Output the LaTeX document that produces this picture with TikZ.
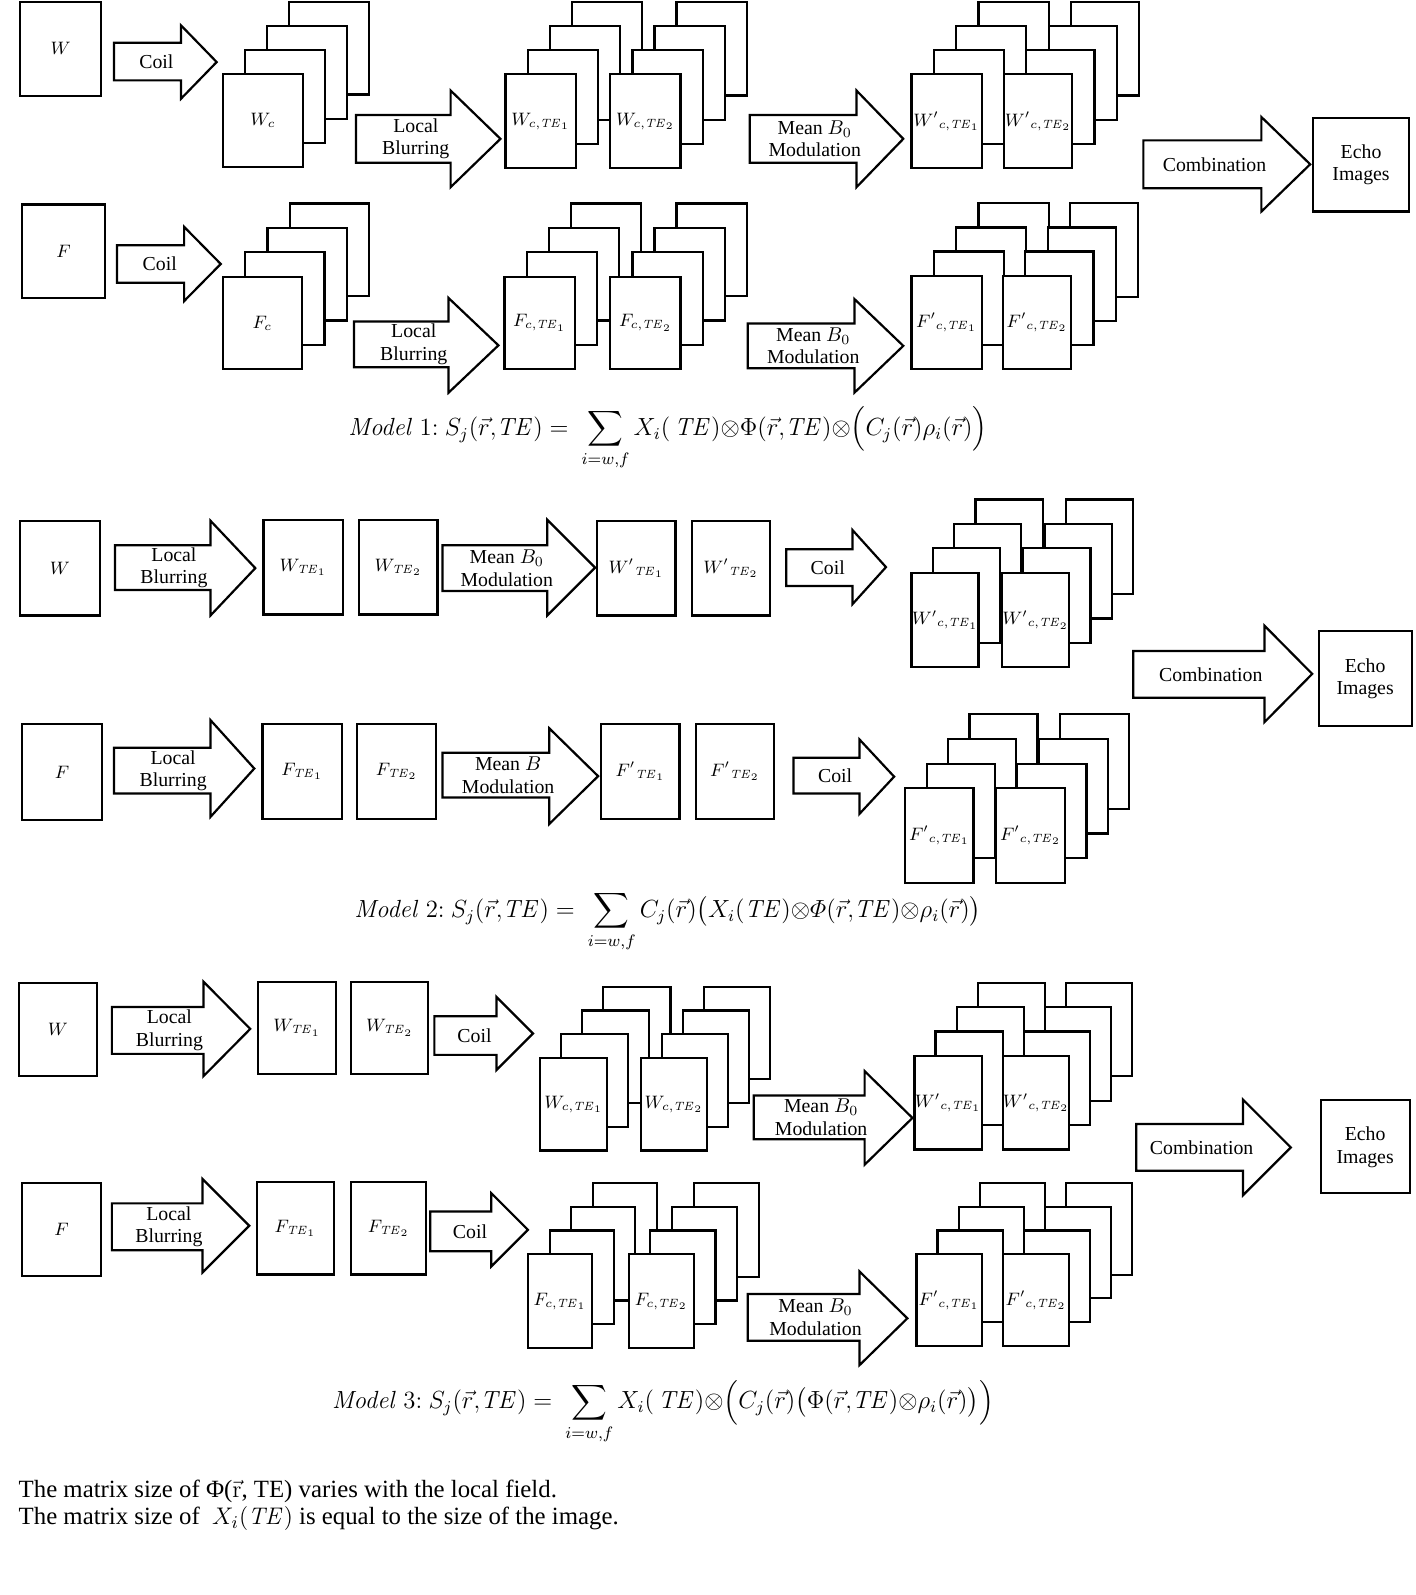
\documentclass[tikz,border=0pt]{standalone}
\usepackage{amsmath}
\usepackage{graphicx}
\usepackage[no-math]{fontspec}
\setmainfont{Liberation Serif}
\tikzset{
  boxline/.style={draw=black, line width=1.1pt, fill=white},
  arrline/.style={draw=black, line width=1.1pt, fill=white, line join=miter},
  boxlbl/.style={inner sep=0pt, font=\fontsize{9}{11}\selectfont},
  albl/.style={align=center, inner sep=0pt, font=\fontsize{9.9}{11.2}\selectfont},
  formula/.style={inner sep=0pt, anchor=base west, font=\fontsize{12}{14}\selectfont},
  note/.style={inner sep=0pt, anchor=base west, font=\fontsize{12.4}{13.7}\selectfont}
}
% single image box: name, x1, y1, x2, y2, label
\newcommand\imgbox[6]{%
  \draw[boxline] (#2,#3) rectangle (#4,#5);
  \node[boxlbl] (#1) at ({(#2+#4)/2},{(#3+#5)/2}) {#6};}
% stack of four boxes: name, front x1, y1, x2, y2, dx, dy, label
\newcommand\imgstack[8]{%
  \foreach \k in {3,2,1,0}{\draw[boxline] ({#2+\k*#6},{#3-\k*#7}) rectangle ({#4+\k*#6},{#5-\k*#7});}
  \node[boxlbl] (#1) at ({(#2+#4)/2},{(#3+#5)/2}) {#8};}
% block arrow: name, body left, head base, tip, body top, body bottom, head top, head bottom, label
\newcommand\blockarrow[9]{%
  \draw[arrline] (#2,#5) -- (#3,#5) -- (#3,#7) -- (#4,{(#7+#8)/2}) -- (#3,#8) -- (#3,#6) -- (#2,#6) -- cycle;
  \node[albl] (#1) at ({(#2+#3)/2+(#4-#3)/4},{(#5+#6)/2}) {#9};}
\newcommand\TEs[1]{\mathit{TE}_{#1}}
\newcommand\eqscale[1]{\scalebox{1.033}{#1}}
\begin{document}
\begin{tikzpicture}[x=0.508621pt,y=-0.508621pt]
\fill[white] (0,0) rectangle (1392,1568);
\useasboundingbox (0,0) rectangle (1392,1568);

% ================= Model 1 =================
\imgbox{w1}{20}{2}{99}{94}{$W$}
\blockarrow{c1w}{112}{178}{213}{42}{79}{25}{97}{Coil}
\imgstack{wc1}{219}{73}{298}{164}{21.7}{23.7}{$W_c$}
\blockarrow{lb1w}{350}{443}{492}{113}{160}{89}{184}{Local\\Blurring}
\imgstack{wcte1}{497}{73}{566}{165}{21.7}{23.7}{$W_{c{,}\TEs1}$}
\imgstack{wcte2}{600}{73}{669}{165}{21.7}{23.7}{$W_{c{,}\TEs2}$}
\blockarrow{mb1w}{737}{842}{888}{113}{160}{89}{184}{Mean $B_0$\\Modulation}
\imgstack{wpc1}{896}{73}{965}{165}{22}{23.7}{$W'{}_{c{,}\TEs1}$}
\imgstack{wpc2}{987}{73}{1054}{165}{22}{23.7}{$W'{}_{c{,}\TEs2}$}
\blockarrow{comb1}{1124}{1240}{1288}{138}{185}{115}{208}{Combination}
\draw[boxline] (1291,116) rectangle (1385,208);
\node[albl] (echo1) at (1338,162) {Echo\\Images};

\imgbox{f1}{22}{201}{103}{293}{$F$}
\blockarrow{c1f}{115}{181}{217}{241}{278}{223}{296}{Coil}
\imgstack{fc1}{219}{272}{297}{363}{22}{24}{$F_c$}
\blockarrow{lb1f}{348}{441}{490}{316}{361}{293}{386}{Local\\Blurring}
\imgstack{fcte1}{496}{272}{565}{363}{21.7}{24}{$F_{c{,}\TEs1}$}
\imgstack{fcte2}{600}{272}{669}{363}{21.7}{24}{$F_{c{,}\TEs2}$}
\blockarrow{mb1f}{735}{840}{888}{318}{362}{294}{386}{Mean $B_0$\\Modulation}
\imgstack{fpc1}{896}{271}{965}{363}{22}{23.7}{$F'{}_{c{,}\TEs1}$}
\imgstack{fpc2}{986}{271}{1053}{363}{22}{23.7}{$F'{}_{c{,}\TEs2}$}

\node[formula] (eq1) at (342,428) {\eqscale{$\mathit{Model}\ 1{:}\ S_j(\vec{r}{,}\mathit{TE}) =\ \displaystyle\sum_{i=w,f} X_i(\,\mathit{TE}){\otimes}\Phi(\vec{r}{,}\mathit{TE}){\otimes}\Bigl(C_j(\vec{r})\rho_i(\vec{r})\Bigr)$}};

% ================= Model 2 =================
\imgbox{w2}{20}{512}{98}{605}{$W$}
\blockarrow{lb2w}{113}{207}{251}{536}{580}{512}{605}{Local\\Blurring}
\imgbox{wte1}{259}{511}{337}{604}{$W_{\TEs1}$}
\imgbox{wte2}{353}{511}{430}{604}{$W_{\TEs2}$}
\blockarrow{mb2w}{435}{538}{585}{536}{581}{511}{605}{Mean $B_0$\\Modulation}
\imgbox{wpte1}{587}{512}{664}{605}{$W'{}_{\TEs1}$}
\imgbox{wpte2}{680}{512}{757}{605}{$W'{}_{\TEs2}$}
\blockarrow{c2w}{773}{838}{871}{540}{576}{521}{594}{Coil}
\imgstack{wpc21}{896}{563}{962}{656}{21}{24}{$W'{}_{c{,}\TEs1}$}
\imgstack{wpc22}{985}{563}{1051}{656}{21}{24}{$W'{}_{c{,}\TEs2}$}
\blockarrow{comb2}{1114}{1243}{1290}{640}{686}{615}{710}{Combination}
\draw[boxline] (1297,620) rectangle (1388,714);
\node[albl] (echo2) at (1342,667) {Echo\\Images};

\imgbox{f2}{22}{712}{100}{806}{$F$}
\blockarrow{lb2f}{112}{207}{250}{735}{780}{708}{803}{Local\\Blurring}
\imgbox{fte1}{258}{712}{336}{805}{$F_{\TEs1}$}
\imgbox{fte2}{351}{712}{429}{805}{$F_{\TEs2}$}
\blockarrow{mb2f}{435}{540}{588}{740}{784}{716}{810}{Mean $B$\\Modulation}
\imgbox{fpte1}{591}{712}{668}{805}{$F'{}_{\TEs1}$}
\imgbox{fpte2}{684}{712}{761}{805}{$F'{}_{\TEs2}$}
\blockarrow{c2f}{780}{845}{879}{745}{780}{727}{800}{Coil}
\imgstack{fpc21}{890}{775}{957}{868}{21}{24.3}{$F'{}_{c{,}\TEs1}$}
\imgstack{fpc22}{979}{775}{1047}{868}{21}{24.3}{$F'{}_{c{,}\TEs2}$}

\node[formula] (eq2) at (348,902) {\eqscale{$\mathit{Model}\ 2{:}\ S_j(\vec{r}{,}\mathit{TE}) =\ \displaystyle\sum_{i=w,f} C_j(\vec{r})\bigl(X_i(\mathit{TE}){\otimes}\varPhi(\vec{r}{,}\mathit{TE}){\otimes}\rho_i(\vec{r})\bigr)$}};

% ================= Model 3 =================
\imgbox{w3}{19}{966}{95}{1058}{$W$}
\blockarrow{lb3w}{110}{200}{246}{990}{1036}{965}{1058}{Local\\Blurring}
\imgbox{wte31}{254}{965}{330}{1056}{$W_{\TEs1}$}
\imgbox{wte32}{345}{965}{421}{1056}{$W_{\TEs2}$}
\blockarrow{c3w}{427}{488}{524}{999}{1037}{980}{1052}{Coil}
\imgstack{wc31}{531}{1040}{597}{1131}{20.7}{23.3}{$W_{c{,}\TEs1}$}
\imgstack{wc32}{630}{1040}{695}{1131}{20.7}{23.3}{$W_{c{,}\TEs2}$}
\blockarrow{mb3w}{741}{850}{897}{1077}{1120}{1053}{1145}{Mean $B_0$\\Modulation}
\imgstack{wpc31}{899}{1038}{965}{1130}{20.7}{24}{$W'{}_{c{,}\TEs1}$}
\imgstack{wpc32}{986}{1038}{1051}{1130}{20.7}{24}{$W'{}_{c{,}\TEs2}$}
\blockarrow{comb3}{1117}{1222}{1269}{1105}{1151}{1081}{1175}{Combination}
\draw[boxline] (1299,1081) rectangle (1386,1173);
\node[albl] (echo3) at (1342,1128) {Echo\\Images};

\imgbox{f3}{22}{1163}{99}{1254}{$F$}
\blockarrow{lb3f}{110}{199}{245}{1183}{1229}{1159}{1251}{Local\\Blurring}
\imgbox{fte31}{253}{1162}{328}{1253}{$F_{\TEs1}$}
\imgbox{fte32}{345}{1162}{419}{1253}{$F_{\TEs2}$}
\blockarrow{c3f}{423}{483}{519}{1191}{1230}{1173}{1245}{Coil}
\imgstack{fc31}{519}{1233}{582}{1325}{21.3}{23.3}{$F_{c{,}\TEs1}$}
\imgstack{fc32}{618}{1233}{682}{1325}{21.3}{23.3}{$F_{c{,}\TEs2}$}
\blockarrow{mb3f}{735}{845}{892}{1272}{1318}{1250}{1342}{Mean $B_0$\\Modulation}
\imgstack{fpc31}{901}{1233}{965}{1323}{20.7}{23.3}{$F'{}_{c{,}\TEs1}$}
\imgstack{fpc32}{986}{1233}{1051}{1323}{20.7}{23.3}{$F'{}_{c{,}\TEs2}$}

\node[formula] (eq3) at (326,1385) {\eqscale{$\mathit{Model}\ 3{:}\ S_j(\vec{r}{,}\mathit{TE}) =\ \displaystyle\sum_{i=w,f} X_i(\,\mathit{TE}){\otimes}\Bigl(C_j(\vec{r})\bigl(\Phi(\vec{r}{,}\mathit{TE}){\otimes}\rho_i(\vec{r})\bigr)\Bigr)$}};

% ================= notes =================
\node[note] (note1) at (18,1472) {The matrix size of Φ($\vec{\mathrm{r}}$, TE) varies with the local field.};
\node[note] (note2) at (18,1499) {The matrix size of \ $X_i(\mathit{TE})$ is equal to the size of the image.};
\end{tikzpicture}
\end{document}
